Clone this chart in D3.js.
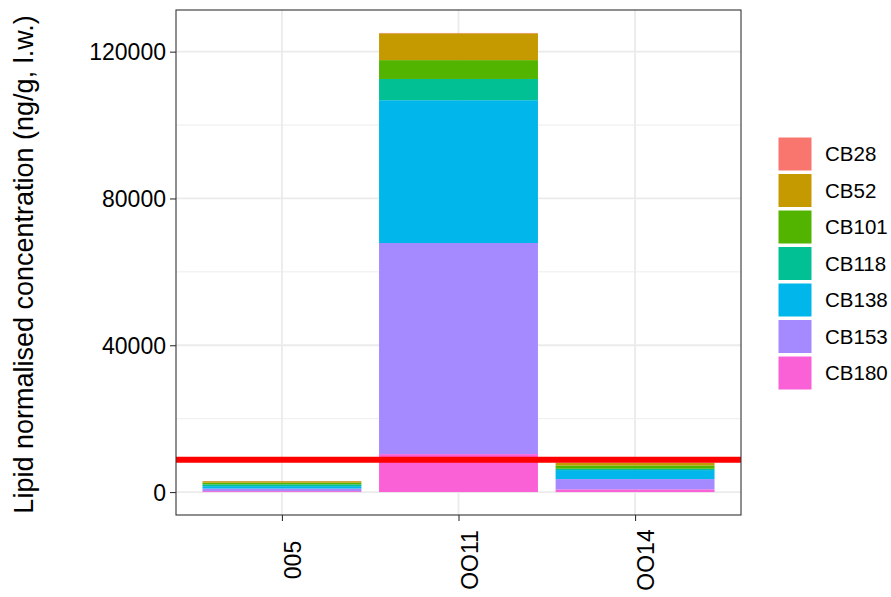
<!DOCTYPE html>
<html><head><meta charset="utf-8">
<script src="https://cdn.jsdelivr.net/npm/d3@7"></script>
<style>body{margin:0;background:#fff}svg{display:block;font-family:"Liberation Sans",Arial,sans-serif}</style>
</head><body><svg id="c" width="891" height="597"></svg>
<script>
const samples = ["005", "OO11", "OO14"];
const congeners = ["CB28", "CB52", "CB101", "CB118", "CB138", "CB153", "CB180"];
const colors = ["#F8766D", "#C49A00", "#53B400", "#00C094", "#00B6EB", "#A58AFF", "#FB61D7"];
const CB28  = [50, 100, 50];
const CB52  = [400, 7300, 725];
const CB101 = [450, 5140, 900];
const CB118 = [500, 5790, 360];
const CB138 = [650, 38910, 2450];
const CB153 = [700, 57520, 2800];
const CB180 = [250, 10340, 735];
const thresholdValue = 8800;
const yTicksMajor = [0, 40000, 80000, 120000];
const yTicksMinor = [20000, 60000, 100000];
const yLabel = "Lipid normalised concentration (ng/g, l.w.)";

const series = {CB28, CB52, CB101, CB118, CB138, CB153, CB180};
const rows = samples.map((s, i) => {
  const r = {sample: s};
  congeners.forEach(c => r[c] = series[c][i]);
  return r;
});
// ggplot stacks first level on top -> stack order bottom = CB180
const stackKeys = congeners.slice().reverse();
const stacked = d3.stack().keys(stackKeys)(rows);

const svg = d3.select("#c");
const L = 176, R = 741, T = 10, B = 515;
const maxTot = d3.max(rows, r => d3.sum(congeners, c => r[c]));
const pad = maxTot * 0.05;
const y = d3.scaleLinear().domain([-pad, maxTot + pad]).range([B, T]);
const unit = (R - L) / 3.2;
const x = d3.scalePoint().domain(samples).range([L + 0.6 * unit, R - 0.6 * unit]);
const bw = 0.9 * unit;
const color = d3.scaleOrdinal().domain(congeners).range(colors);

// panel grid
const g = svg.append("g");
g.selectAll("line.minor").data(yTicksMinor).join("line")
  .attr("x1", L).attr("x2", R).attr("y1", d => y(d)).attr("y2", d => y(d))
  .attr("stroke", "#EBEBEB").attr("stroke-width", 0.9);
g.selectAll("line.major").data(yTicksMajor).join("line")
  .attr("x1", L).attr("x2", R).attr("y1", d => y(d)).attr("y2", d => y(d))
  .attr("stroke", "#EBEBEB").attr("stroke-width", 1.8);
g.selectAll("line.vmajor").data(samples).join("line")
  .attr("y1", T).attr("y2", B).attr("x1", d => x(d)).attr("x2", d => x(d))
  .attr("stroke", "#EBEBEB").attr("stroke-width", 1.8);

// bars
svg.append("g").selectAll("g").data(stacked).join("g")
  .attr("fill", d => color(d.key))
  .selectAll("rect").data(d => d).join("rect")
  .attr("x", d => x(d.data.sample) - bw / 2)
  .attr("width", bw)
  .attr("y", d => y(d[1]))
  .attr("height", d => y(d[0]) - y(d[1]));

// threshold line
svg.append("line").attr("x1", L).attr("x2", R)
  .attr("y1", y(thresholdValue)).attr("y2", y(thresholdValue))
  .attr("stroke", "#FF0000").attr("stroke-width", 6);

// panel border
svg.append("rect").attr("x", L).attr("y", T).attr("width", R - L).attr("height", B - T)
  .attr("fill", "none").attr("stroke", "#333333").attr("stroke-width", 1.1);

// y axis
const yAxis = svg.append("g").attr("transform", `translate(${L},0)`)
  .call(d3.axisLeft(y).tickValues(yTicksMajor).tickSize(6).tickPadding(4).tickFormat(d3.format("d")));
yAxis.select(".domain").remove();
yAxis.selectAll(".tick line").attr("stroke", "#333333").attr("stroke-width", 1.1);
yAxis.selectAll(".tick text").attr("font-size", 23).attr("fill", "#000")
  .attr("font-family", "Liberation Sans, Arial, sans-serif").attr("dy", "0.36em");

// x axis
const xAxis = svg.append("g").attr("transform", `translate(0,${B})`)
  .call(d3.axisBottom(x).tickSize(6).tickFormat(""));
xAxis.select(".domain").remove();
xAxis.selectAll(".tick line").attr("stroke", "#333333").attr("stroke-width", 1.1);
svg.append("g").selectAll("text").data(samples).join("text")
  .attr("transform", d => `translate(${x(d) + 19},560) rotate(-90)`)
  .attr("text-anchor", "middle").attr("font-size", 23).attr("fill", "#000")
  .text(d => d);

// y title
svg.append("text").attr("transform", `translate(33,${(T + B) / 2 + 2}) rotate(-90)`)
  .attr("text-anchor", "middle").attr("font-size", 27).attr("fill", "#000")
  .text(yLabel);

// legend
const lg = svg.append("g").attr("transform", "translate(778,137)");
const step = 36.5;
const items = lg.selectAll("g").data(congeners).join("g")
  .attr("transform", (d, i) => `translate(0,${i * step})`);
items.append("rect").attr("x", 0).attr("y", 0).attr("width", 34).attr("height", 34)
  .attr("fill", d => color(d)).attr("stroke", "#fff").attr("stroke-width", 1);
items.append("text").attr("x", 47).attr("y", 17).attr("dy", "0.36em")
  .attr("font-size", 20.5).attr("fill", "#000").text(d => d);
</script></body></html>
